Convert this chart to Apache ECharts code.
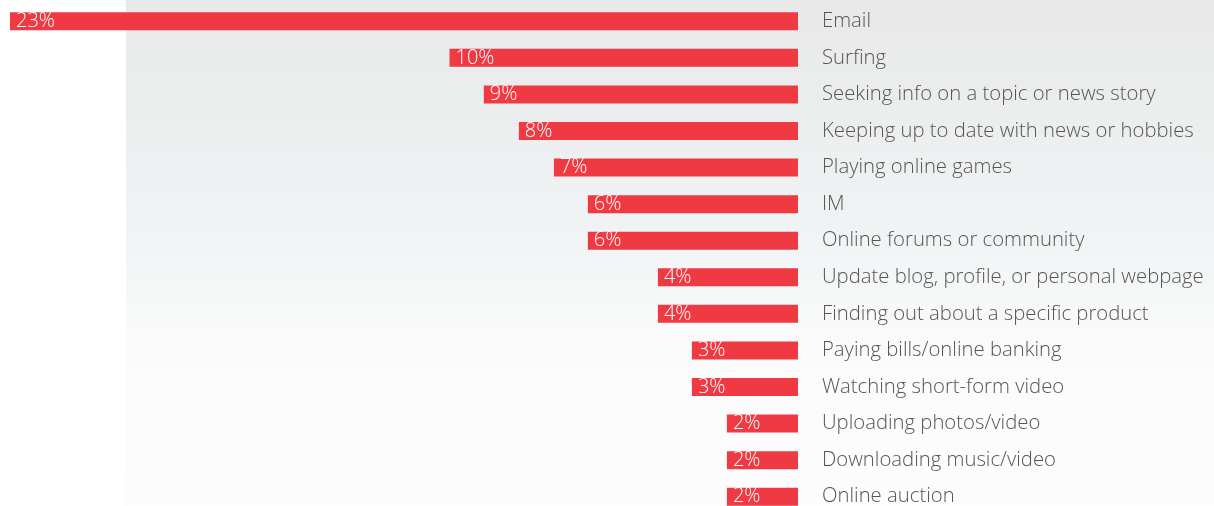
<!DOCTYPE html>
<html><head><meta charset="utf-8">
<script src="https://cdn.jsdelivr.net/npm/echarts@6/dist/echarts.min.js"></script>
<style>html,body{margin:0;padding:0;background:#fff}#c{width:1214px;height:506px}</style>
</head><body><div id="c"></div>
<script>
const categories = ["Email","Surfing","Seeking info on a topic or news story","Keeping up to date with news or hobbies","Playing online games","IM","Online forums or community","Update blog, profile, or personal webpage","Finding out about a specific product","Paying bills/online banking","Watching short-form video","Uploading photos/video","Downloading music/video","Online auction"];
const values = [22.5, 9.95, 8.97, 7.97, 6.97, 6.0, 6.0, 4.0, 4.0, 3.03, 3.03, 2.03, 2.03, 2.03];
const valueLabels = ["23%","10%","9%","8%","7%","6%","6%","4%","4%","3%","3%","2%","2%","2%"];

const chart = echarts.init(document.getElementById('c'), null, {renderer:'canvas'});
chart.setOption({
  animation:false,
  graphic:[{
    type:'rect', left:126, top:0, z:-10,
    shape:{width:1088, height:506},
    style:{fill:new echarts.graphic.LinearGradient(0,0,0,1,[
      {offset:0,color:'#e8e8e8'},{offset:0.45,color:'#f0f3f4'},{offset:0.7,color:'#fbfbfb'},{offset:1,color:'#fdfdfd'}])}
  }],
  grid:{left:10, right:416, top:3, bottom:-9, containLabel:false, outerBoundsMode:'none'},
  xAxis:{type:'value', inverse:true, min:0, max:22.5, show:false},
  yAxis:{type:'category', inverse:true, position:'right', data:categories,
    axisLine:{show:false}, axisTick:{show:false}, splitLine:{show:false},
    axisLabel:{align:'left', margin:24, color:'#555', fontSize:20.3, fontFamily:'"Open Sans", "Noto Sans", sans-serif', fontWeight:300}
  },
  series:[{
    type:'bar', data:values, barWidth:18,
    itemStyle:{color:'#ef3a43'},
    label:{show:true, position:'insideLeft', distance:6, color:'#fff', fontSize:20,
      fontFamily:'"Open Sans", "Noto Sans", sans-serif', fontWeight:300,
      formatter:p=>valueLabels[p.dataIndex]}
  }]
});
</script></body></html>
